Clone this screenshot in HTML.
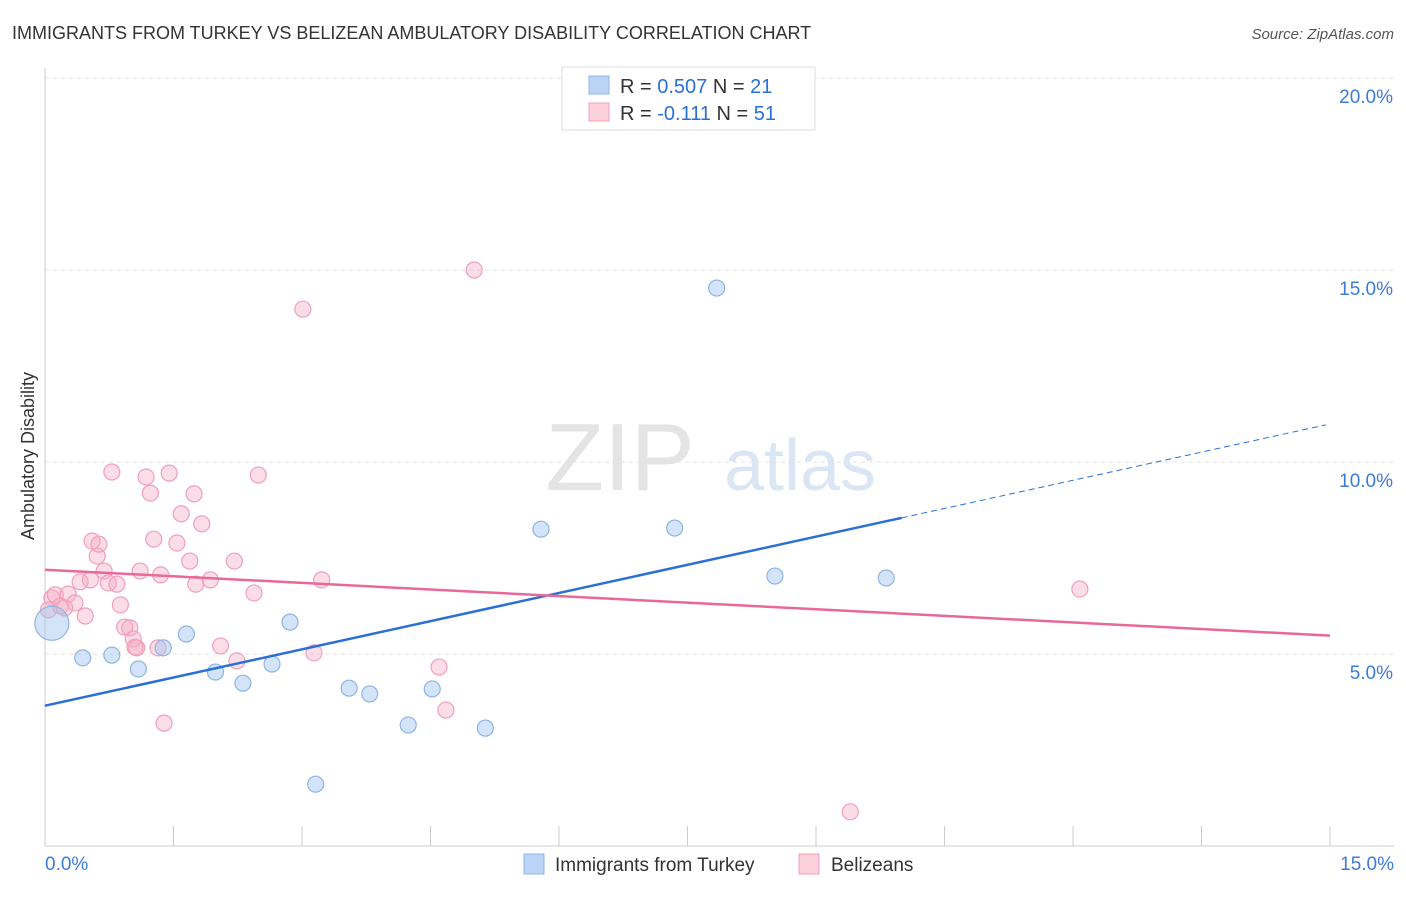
<!DOCTYPE html>
<html><head><meta charset="utf-8"><style>
body{margin:0;background:#fff;font-family:"Liberation Sans",sans-serif;}
svg text{font-family:"Liberation Sans",sans-serif;}
</style></head><body>
<svg id="c" width="1406" height="892">
<text x="12" y="39" font-size="18" fill="#333">IMMIGRANTS FROM TURKEY VS BELIZEAN AMBULATORY DISABILITY CORRELATION CHART</text>
<text x="1394" y="39" font-size="15" fill="#555" font-style="italic" text-anchor="end">Source: ZipAtlas.com</text>
<text x="620" y="490" font-size="96" fill="#e4e4e4" font-family="Liberation Serif" text-anchor="middle">ZIP</text>
<text x="800" y="490" font-size="72" fill="#dbe6f5" text-anchor="middle">atlas</text>
<g id="grid"></g><g id="pts"></g><g id="lines"></g>
<text transform="translate(34,456) rotate(-90)" font-size="18" fill="#333" text-anchor="middle">Ambulatory Disability</text>
<g>
<rect x="562" y="67" width="253" height="63" fill="#fff" stroke="#ddd"/>
<rect x="589" y="76" width="20" height="18" fill="#bcd4f5" stroke="#8fb4e3"/>
<rect x="589" y="103" width="20" height="18" fill="#fbd0dc" stroke="#f0a0b8"/>
<text x="620" y="93" font-size="20" fill="#333">R = <tspan fill="#2a6fd6">0.507</tspan>   N = <tspan fill="#2a6fd6">21</tspan></text>
<text x="620" y="120" font-size="20" fill="#333">R =  <tspan fill="#2a6fd6">-0.111</tspan>   N = <tspan fill="#2a6fd6">51</tspan></text>
</g>
<g>
<rect x="524" y="854" width="20" height="20" fill="#bcd4f5" stroke="#8fb4e3"/>
<text x="555" y="871" font-size="19" fill="#333">Immigrants from Turkey</text>
<rect x="799" y="854" width="20" height="20" fill="#fbd0dc" stroke="#f0a0b8"/>
<text x="831" y="871" font-size="19" fill="#333">Belizeans</text>
</g>
</svg>
<script>
const yTicks=[5,10,15,20];
const xTickLabels=["0.0%","15.0%"];
const blueX=[0.08,0.44,0.78,1.09,1.38,1.65,1.99,2.31,2.65,2.86,3.16,3.55,3.79,4.24,4.52,5.14,5.79,7.35,7.84,8.52,9.82];
const blueY=[5.8,4.9,4.97,4.61,5.16,5.52,4.53,4.24,4.74,5.83,1.61,4.11,3.96,3.15,4.09,3.07,8.25,8.28,14.53,7.03,6.98];
const pinkX=[0.08,0.12,0.18,0.27,0.35,0.41,0.47,0.53,0.55,0.61,0.63,0.69,0.74,0.78,0.84,0.88,0.93,0.99,1.03,1.07,1.11,1.18,1.23,1.27,1.32,1.35,1.39,1.45,1.54,1.59,1.69,1.74,1.76,1.83,1.93,2.05,2.21,2.24,2.44,2.49,3.01,3.14,3.23,4.6,4.68,5.01,9.4,12.08,0.04,0.23,1.05];
const pinkY=[6.46,6.54,6.25,6.56,6.33,6.88,5.99,6.93,7.94,7.55,7.86,7.16,6.85,9.74,6.82,6.28,5.7,5.68,5.39,5.16,7.16,9.61,9.19,7.99,5.16,7.06,3.2,9.71,7.89,8.65,7.42,9.17,6.82,8.39,6.93,5.21,7.42,4.82,6.59,9.66,13.98,5.03,6.93,4.66,3.54,15.0,0.89,6.69,6.15,6.2,5.18];
const W=1406,X0=45,X1=1330,YB=846,PX=(X1-X0)/15,PY=38.4;
const sx=v=>X0+v*PX, sy=v=>YB-v*PY;
const ns="http://www.w3.org/2000/svg";
function mk(t,a,p){const e=document.createElementNS(ns,t);for(const k in a)e.setAttribute(k,a[k]);p.appendChild(e);return e;}
const g=document.getElementById('grid');
yTicks.forEach(v=>{const l=mk('line',{x1:X0,x2:1394,y1:sy(v),y2:sy(v),stroke:'#e2e2e2','stroke-dasharray':'4,4'},g);

const t=mk('text',{x:1393,y:sy(v)+25,'font-size':19,fill:'#3d7bd6','text-anchor':'end'},g);t.textContent=v.toFixed(1)+'%';
});
const ax=mk('line',{x1:X0,x2:1394,y1:YB,y2:YB,stroke:'#ccc'},g);
const ay=mk('line',{x1:X0,x2:X0,y1:68,y2:YB,stroke:'#ccc'},g);
for(let i=1;i<=10;i++){const t=mk('line',{x1:sx(i*1.5),x2:sx(i*1.5),y1:826,y2:YB,stroke:'#ccc'},g);}
[[0,'start',45],[15,'end',1394]].forEach((d,i)=>{const t=mk('text',{x:d[2],y:870,'font-size':19,fill:'#3d7bd6','text-anchor':d[1]},g);t.textContent=xTickLabels[i];});
const p=document.getElementById('pts');
pinkX.forEach((x,i)=>{const c=mk('circle',{cx:sx(x),cy:sy(pinkY[i]),r:8,fill:'rgba(246,170,195,0.4)',stroke:'#f0a0b8','stroke-width':1.2},p);});
blueX.forEach((x,i)=>{const c=mk('circle',{cx:sx(x),cy:sy(blueY[i]),r:i==0?17:8,fill:'rgba(160,196,240,0.45)',stroke:'#8fb4e3','stroke-width':1.2},p);});
function fit(xs,ys){const n=xs.length,mx=xs.reduce((a,b)=>a+b)/n,my=ys.reduce((a,b)=>a+b)/n;let sxy=0,sxx=0;xs.forEach((x,i)=>{sxy+=(x-mx)*(ys[i]-my);sxx+=(x-mx)**2});const b=sxy/sxx;return [my-b*mx,b];}
const L=document.getElementById('lines');
const [ba,bb]=fit(blueX,blueY),[pa,pb]=fit(pinkX,pinkY);
let l=mk('line',{x1:sx(0),y1:sy(ba),x2:sx(10),y2:sy(ba+bb*10),stroke:'#2a6fd6','stroke-width':2.5},L);
l=mk('line',{x1:sx(10),y1:sy(ba+bb*10),x2:sx(14.95),y2:sy(ba+bb*14.95),stroke:'#2a6fd6','stroke-width':1,'stroke-dasharray':'6,4'},L);
l=mk('line',{x1:sx(0),y1:sy(pa),x2:sx(15),y2:sy(pa+pb*15),stroke:'#e8689a','stroke-width':2.5},L);
</script>
</body></html>
